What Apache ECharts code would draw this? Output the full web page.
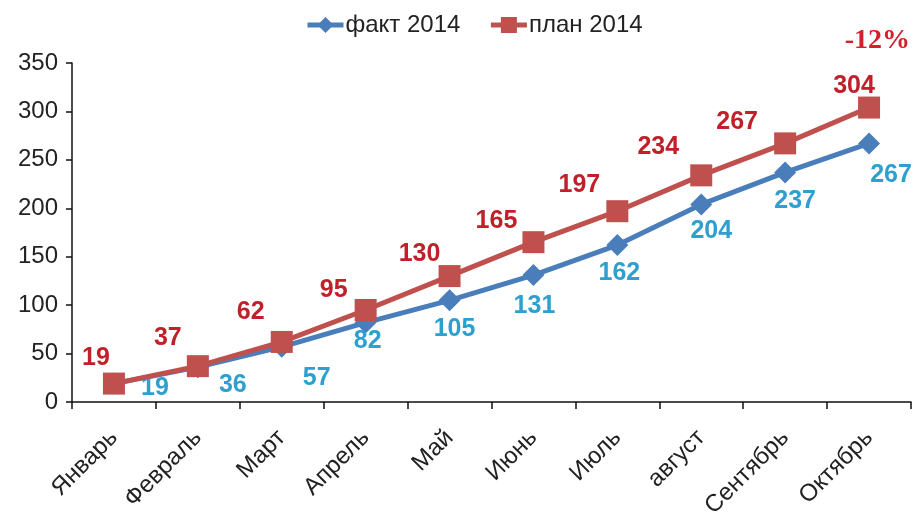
<!DOCTYPE html>
<html>
<head>
<meta charset="utf-8">
<script src="https://cdn.jsdelivr.net/npm/echarts@6/dist/echarts.min.js"></script>
<style>
  html, body { margin: 0; padding: 0; background: #fff; }
  #chart { width: 917px; height: 528px; }
</style>
</head>
<body>
<div id="chart"></div>
<script>
// Monthly cumulative figures, 2014
const months = ['Январь', 'Февраль', 'Март', 'Апрель', 'Май', 'Июнь', 'Июль', 'август', 'Сентябрь', 'Октябрь'];
const factValues = [19, 36, 57, 82, 105, 131, 162, 204, 237, 267];
const planValues = [19, 37, 62, 95, 130, 165, 197, 234, 267, 304];
const yTicks = [0, 50, 100, 150, 200, 250, 300, 350];
const deviationText = '-12%';

const FONT = '"Liberation Sans", Arial, sans-serif';

// Value-label placement (pixel shift from each marker's centre),
// so the numbers clear both lines where they run close together.
const factLabelShift = [[41, 5], [35, 18], [35, 31], [2, 19], [5, 29], [1, 31], [2, 28], [10, 27], [10, 29], [22, 32]];
const planLabelShift = [[-18, -25], [-30, -28], [-31, -30], [-32, -20], [-30, -22], [-37, -21], [-38, -26], [-43, -28], [-48, -21], [-15, -21]];

const chart = echarts.init(document.getElementById('chart'));
chart.setOption({
  backgroundColor: '#ffffff',
  animation: false,
  legend: {
    top: 8,
    left: 300,
    itemWidth: 36,
    itemHeight: 20,
    itemGap: 28,
    lineStyle: { width: 5 },
    textStyle: { fontFamily: FONT, fontSize: 24, color: '#222', padding: [0, 0, 0, -3] },
    data: ['факт 2014', 'план 2014']
  },
  grid: { left: 72, right: 6, top: 63, bottom: 126 },
  graphic: [{
    type: 'text',
    right: 7,
    top: 27,
    style: {
      text: deviationText,
      font: 'bold 28px "Liberation Serif", "Times New Roman", serif',
      fill: '#d3202a'
    }
  }],
  xAxis: {
    type: 'category',
    data: months,
    boundaryGap: true,
    axisLine: { lineStyle: { color: '#111', width: 1.5 } },
    axisTick: { show: true, length: 7, lineStyle: { color: '#111', width: 1.5 } },
    axisLabel: {
      rotate: 45,
      margin: 32,
      fontFamily: FONT,
      fontSize: 24,
      color: '#222'
    },
    splitLine: { show: false }
  },
  yAxis: {
    type: 'value',
    min: yTicks[0],
    max: yTicks[yTicks.length - 1],
    interval: yTicks[1] - yTicks[0],
    axisLine: { show: true, lineStyle: { color: '#111', width: 1.5 } },
    axisTick: { show: true, length: 6, lineStyle: { color: '#111', width: 1.5 } },
    axisLabel: { margin: 14, fontFamily: FONT, fontSize: 24, color: '#222' },
    splitLine: { show: false }
  },
  series: [
    {
      name: 'факт 2014',
      type: 'line',
      data: factValues.map((v, i) => ({
        value: v,
        label: { offset: factLabelShift[i] }
      })),
      symbol: 'diamond',
      symbolSize: 22,
      lineStyle: { color: '#4a7ebb', width: 5 },
      itemStyle: { color: '#4a7ebb' },
      label: {
        show: true,
        position: 'inside',
        fontFamily: FONT,
        fontWeight: 'bold',
        fontSize: 25,
        color: '#2e9fcf'
      },
      z: 2
    },
    {
      name: 'план 2014',
      type: 'line',
      data: planValues.map((v, i) => ({
        value: v,
        label: { offset: planLabelShift[i] }
      })),
      symbol: 'rect',
      symbolSize: 22,
      lineStyle: { color: '#c0504d', width: 5 },
      itemStyle: { color: '#c0504d' },
      label: {
        show: true,
        position: 'inside',
        fontFamily: FONT,
        fontWeight: 'bold',
        fontSize: 25,
        color: '#c0202a'
      },
      z: 3
    }
  ]
});
</script>
</body>
</html>
